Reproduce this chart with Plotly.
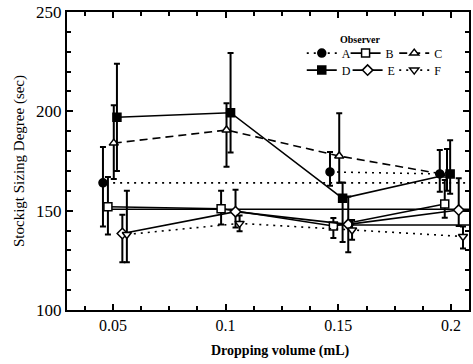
import plotly.graph_objects as go

# ---------------- data ----------------
x_tick_vals = [0.05, 0.10, 0.15, 0.20]
x_tick_text = ["0.05", "0.1", "0.15", "0.2"]
y_tick_vals = [100, 150, 200, 250]

# x positions of each observer's points (slightly dodged around each volume)
A_x = [0.0456, 0.0978, 0.1463, 0.1950]
B_x = [0.0478, 0.0980, 0.1478, 0.1972]
C_x = [0.0504, 0.1004, 0.1504, 0.1982]
D_x = [0.0518, 0.1022, 0.1519, 0.1996]
E_x = [0.0542, 0.1044, 0.1544, 0.2034]
F_x = [0.0562, 0.1062, 0.1561, 0.2053]

# mean sizing degree (sec)
A_y = [164.0, None, 169.5, 168.5]
B_y = [152.0, 151.0, 142.3, 153.4]
C_y = [184.0, 190.6, 177.5, 168.0]
D_y = [197.0, 199.3, 156.2, 168.5]
E_y = [138.5, 149.5, 143.1, 150.3]
F_y = [138.0, 143.6, 140.3, 137.0]

# error bar extents (upper, lower)
A_up = [18, 0, 10, 12];      A_dn = [22, 0, 7, 9]
B_up = [15, 9, 4, 12];       B_dn = [14, 8, 6, 7]
C_up = [19, 13.5, 21.5, 13]; C_dn = [18, 18.5, 13.5, 8]
D_up = [27, 30, 8, 17];      D_dn = [27, 20, 22, 10]
E_up = [9.5, 11, 14, 16];    E_dn = [14.5, 8, 14, 8]
F_up = [22, 4, 5, 5];        F_dn = [14, 4, 5, 6]

# horizontal reference levels drawn across the plot
ref_levels = [164.0, 150.7, 142.8]
ref_starts = [0.0470, 0.0485, 0.1490]
ref_end = 0.2080

# ---------------- figure ----------------
FONT = "Liberation Serif"
fig = go.Figure()

series = [
    ("A", A_x, A_y, A_up, A_dn, "circle", "black", "2px,5px"),
    ("B", B_x, B_y, B_up, B_dn, "square", "white", "solid"),
    ("C", C_x, C_y, C_up, C_dn, "triangle-up", "white", "8px,5px"),
    ("D", D_x, D_y, D_up, D_dn, "square", "black", "solid"),
    ("E", E_x, E_y, E_up, E_dn, "diamond", "white", "solid"),
    ("F", F_x, F_y, F_up, F_dn, "triangle-down", "white", "2px,5px"),
]
legend_ids = ["legend", "legend2", "legend3", "legend4", "legend5", "legend6"]

ref_dash = ["2px,5px", "solid", "solid"]
for lvl, x0, dsh in zip(ref_levels, ref_starts, ref_dash):
    fig.add_trace(go.Scatter(
        x=[x0, ref_end], y=[lvl, lvl], mode="lines",
        line=dict(color="black", width=1.6, dash=dsh),
        showlegend=False, hoverinfo="skip"))

for (name, xs, ys, up, dn, sym, fill, dsh), lg in zip(series, legend_ids):
    fig.add_trace(go.Scatter(
        x=xs, y=ys, name=name, mode="lines+markers",
        line=dict(color="black", width=1.6, dash=dsh),
        marker=dict(symbol=sym, size=8, color=fill,
                    line=dict(color="black", width=1.5)),
        error_y=dict(type="data", symmetric=False, array=up, arrayminus=dn,
                     color="black", thickness=2, width=3),
        connectgaps=False, legend=lg))

axis_common = dict(
    showline=True, linecolor="black", linewidth=2, mirror="ticks",
    ticks="inside", tickcolor="black", tickwidth=1.5, ticklen=6,
    showgrid=False, zeroline=False,
)

fig.update_xaxes(
    **axis_common,
    range=[0.02965, 0.20796],
    tickvals=x_tick_vals, ticktext=x_tick_text,
    tickfont=dict(family=FONT, size=16, color="black"),
    minor=dict(ticks="inside", ticklen=4, tickwidth=1.5, tickcolor="black",
               dtick=0.0125, tick0=0, showgrid=False),
)
fig.update_yaxes(
    **axis_common,
    range=[100, 250],
    tickvals=y_tick_vals,
    tickfont=dict(family=FONT, size=17, color="black"),
    minor=dict(ticks="inside", ticklen=4, tickwidth=1.5, tickcolor="black",
               dtick=10, tick0=0, showgrid=False),
    title=dict(text="Stockigt Sizing Degree (sec)",
               font=dict(family=FONT, size=15, color="black"), standoff=8),
)

# one single-entry legend per observer, laid out in two rows of three
legend_pos = [(0.584, 0.862), (0.693, 0.862), (0.814, 0.862),
              (0.584, 0.805), (0.698, 0.805), (0.814, 0.805)]
legends = {}
for lg, (lx, ly) in zip(legend_ids, legend_pos):
    legends[lg] = dict(
        x=lx, y=ly, xanchor="left", yanchor="middle", orientation="h",
        bgcolor="rgba(0,0,0,0)", borderwidth=0,
        font=dict(family=FONT, size=12, color="black"),
        itemwidth=30)

fig.update_layout(
    width=473, height=364,
    margin=dict(l=67, r=2, t=12, b=54),
    paper_bgcolor="white", plot_bgcolor="white",
    annotations=[
        dict(text="<b>Observer</b>", x=0.785, y=0.932,
             xref="paper", yref="paper", showarrow=False,
             font=dict(family=FONT, size=10, color="black")),
        dict(text="<b>Dropping volume (mL)</b>", x=0.532, y=351,
             xref="paper", yref="paper", showarrow=False,
             font=dict(family=FONT, size=14, color="black")),
    ],
    **legends,
)
# place x-axis title annotation in pixel terms below the plot
fig.layout.annotations[1].update(y=-(351 - 310) / 298, yanchor="middle")

fig.write_html("out.html")
